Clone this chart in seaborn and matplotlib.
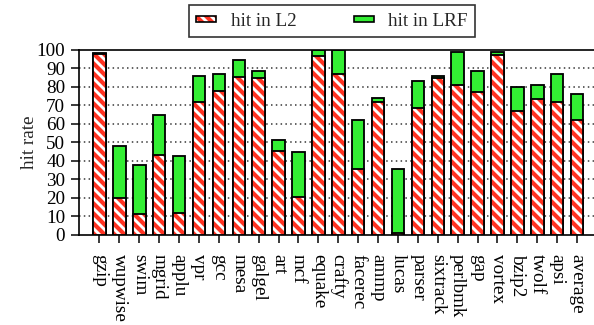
import matplotlib
matplotlib.use("Agg")
import matplotlib.pyplot as plt
from matplotlib.legend_handler import HandlerTuple
import seaborn as sns
import pandas as pd

# SPEC benchmarks and their hit rates (%)
benchmarks = ["gzip", "wupwise", "swim", "mgrid", "applu", "vpr", "gcc", "mesa",
              "galgel", "art", "mcf", "equake", "crafty", "facerec", "ammp", "lucas",
              "parser", "sixtrack", "perlbmk", "gap", "vortex", "bzip2", "twolf",
              "apsi", "average"]
hit_l2 = [98.0, 20.0, 11.0, 43.0, 11.5, 72.0, 78.0, 85.5, 84.8, 45.5, 20.3, 97.0,
          87.0, 35.3, 72.0, 1.0, 68.7, 84.6, 81.3, 77.4, 97.3, 67.2, 73.6, 71.6, 61.8]
hit_lrf = [0.5, 28.0, 26.5, 22.0, 31.0, 14.0, 9.0, 9.1, 4.0, 5.6, 24.4, 3.0,
           13.0, 27.0, 2.0, 34.5, 14.6, 1.5, 17.4, 11.2, 1.4, 12.9, 7.6, 15.2, 14.1]

legend_labels = ["hit in L2", "hit in LRF"]
yticks = list(range(0, 101, 10))

RED = "#ff3322"
GREEN = "#33ee33"
HATCH = "\\" * 4
FS = 11.5

df = pd.DataFrame({"benchmark": benchmarks, "l2": hit_l2, "lrf": hit_lrf})
df["total"] = df["l2"] + df["lrf"]

sns.set_theme(style="ticks")
plt.rcParams["font.family"] = ["Liberation Serif", "DejaVu Serif"]
plt.rcParams["hatch.linewidth"] = 2.5
plt.rcParams["axes.linewidth"] = 1.0

fig = plt.figure(figsize=(594 / 120, 325 / 120), dpi=120)
ax = fig.add_axes([79 / 594, 1 - 234.5 / 325, 1 - 79 / 594, (234.5 - 50) / 325])

bar_w = 0.63

# stacked total (green LRF part shows above the L2 part)
sns.barplot(data=df, x="benchmark", y="total", color=GREEN, saturation=1,
            width=bar_w, edgecolor="black", linewidth=1.1, errorbar=None, ax=ax,
            zorder=2)
# L2 part: red stripes on white
sns.barplot(data=df, x="benchmark", y="l2", color="white", saturation=1,
            width=bar_w, edgecolor=RED, linewidth=0, hatch=HATCH, errorbar=None,
            ax=ax, zorder=3)
# black outline of the L2 part
sns.barplot(data=df, x="benchmark", y="l2", color="black", fill=False,
            width=bar_w, linewidth=1.1, errorbar=None, ax=ax, zorder=4)

ax.set_ylim(0, 100)
ax.set_xlim(-1.03, 24.85)
ax.set_yticks(yticks)
ax.set_yticklabels([str(t) for t in yticks], fontsize=FS)
ax.set_xticks(range(len(benchmarks)))
ax.set_xticklabels(benchmarks, rotation=270, fontsize=FS, va="top", ha="center")
ax.tick_params(axis="both", direction="out", length=4.8, width=0.9, color="black",
               labelcolor="black")
ax.tick_params(axis="y", pad=3.5)
ax.tick_params(axis="x", pad=7)
ax.set_xlabel("")
ax.set_ylabel("hit rate", fontsize=FS, labelpad=-1)

for y in yticks[1:-1]:
    ax.axhline(y, color="#333333", linestyle=(0, (1, 2.2)), linewidth=0.9, zorder=1)

for side in ["left", "bottom", "top"]:
    ax.spines[side].set_visible(True)
    ax.spines[side].set_color("black")
ax.spines["right"].set_visible(False)

h_l2 = (plt.Rectangle((0, 0), 1, 1, facecolor="white", edgecolor=RED, hatch=HATCH,
                      linewidth=0),
        plt.Rectangle((0, 0), 1, 1, fill=False, edgecolor="black", linewidth=1.0))
h_lrf = plt.Rectangle((0, 0), 1, 1, facecolor=GREEN, edgecolor="black", linewidth=1.0)
leg = fig.legend([h_l2, h_lrf], legend_labels, loc="upper center",
                 bbox_to_anchor=(332 / 594, 1 - 5 / 325),
                 handler_map={tuple: HandlerTuple(ndivide=1, pad=0)},
                 ncol=2, frameon=True, fancybox=False, edgecolor="black", fontsize=FS,
                 handlelength=1.05, handleheight=0.1, handletextpad=0.75,
                 columnspacing=3.0, borderpad=0.4, borderaxespad=0)
leg.get_frame().set_linewidth(1.0)

fig.savefig("out.png", dpi=120)
